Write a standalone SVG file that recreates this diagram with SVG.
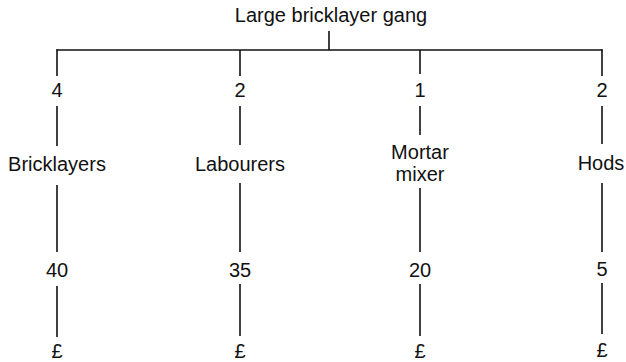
<svg xmlns="http://www.w3.org/2000/svg" width="626" height="362" viewBox="0 0 626 362">
<style>
text{font-family:"Liberation Sans",Arial,sans-serif;font-size:20px;fill:#111;text-anchor:middle}
.c line{stroke:#111;stroke-width:1.6;fill:none}
</style>
<rect width="626" height="362" fill="#fff"/>
<g class="c" id="connectors">
<line x1="329" y1="31" x2="329" y2="50"/>
<line x1="56.5" y1="50" x2="602.5" y2="50"/>
<line x1="57" y1="49.2" x2="57" y2="76"/>
<line x1="240" y1="50" x2="240" y2="76"/>
<line x1="420" y1="50" x2="420" y2="74"/>
<line x1="602" y1="49.2" x2="602" y2="76"/>
<line x1="57" y1="106" x2="57" y2="146"/>
<line x1="240" y1="106" x2="240" y2="145"/>
<line x1="420" y1="106" x2="420" y2="135"/>
<line x1="602" y1="106" x2="602" y2="144"/>
<line x1="57" y1="185" x2="57" y2="252"/>
<line x1="240" y1="183" x2="240" y2="252"/>
<line x1="420" y1="188" x2="420" y2="252"/>
<line x1="602" y1="183" x2="602" y2="252"/>
<line x1="57" y1="286" x2="57" y2="337"/>
<line x1="240" y1="284" x2="240" y2="336"/>
<line x1="420" y1="284" x2="420" y2="336"/>
<line x1="602" y1="283" x2="602" y2="334"/>
</g>
<g id="root"><text x="331" y="22">Large bricklayer gang</text></g>
<g id="count-bricklayers"><text x="57" y="97">4</text></g>
<g id="count-labourers"><text x="240" y="97">2</text></g>
<g id="count-mortar"><text x="420" y="97">1</text></g>
<g id="count-hods"><text x="602" y="97">2</text></g>
<g id="bricklayers"><text x="57" y="171">Bricklayers</text></g>
<g id="labourers"><text x="240" y="171">Labourers</text></g>
<g id="mortar-mixer"><text x="420" y="159">Mortar</text><text x="420" y="181">mixer</text></g>
<g id="hods"><text x="601" y="170">Hods</text></g>
<g id="rate-bricklayers"><text x="57" y="277">40</text></g>
<g id="rate-labourers"><text x="240" y="277">35</text></g>
<g id="rate-mortar"><text x="420" y="277">20</text></g>
<g id="rate-hods"><text x="602" y="276">5</text></g>
<g id="pound-bricklayers"><text x="57" y="358">£</text></g>
<g id="pound-labourers"><text x="240" y="358">£</text></g>
<g id="pound-mortar"><text x="420" y="358">£</text></g>
<g id="pound-hods"><text x="602" y="357">£</text></g>
</svg>
